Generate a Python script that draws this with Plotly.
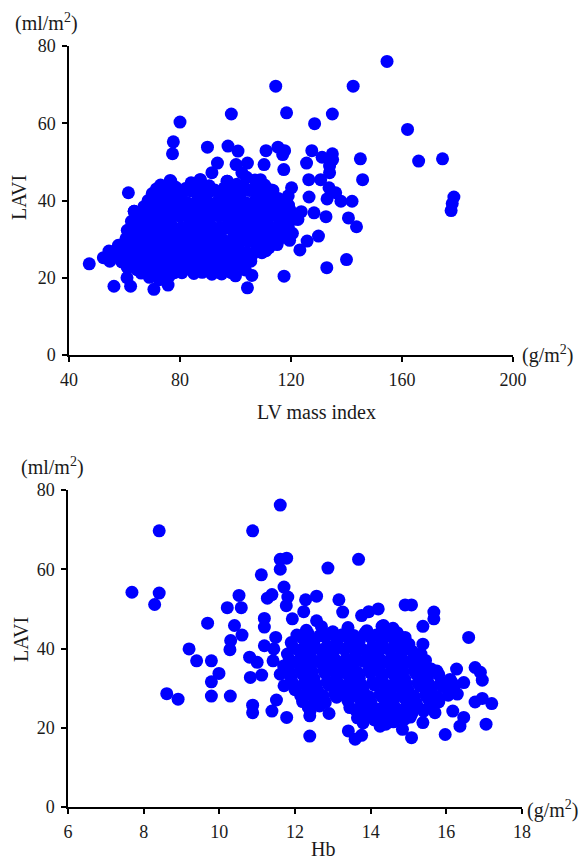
import plotly.graph_objects as go

# ---- top panel: LV mass index (g/m2) vs LAVI (ml/m2) ----
# sparse points around the main cloud
lvmi_edge = [154.6, 114.5, 142.4, 118.4, 98.5, 134.9, 80.0, 128.5, 162.0, 77.6,
             77.3, 89.9, 97.3, 100.9, 111.0, 115.3, 117.7, 117.0, 127.5, 134.9,
             131.2, 145.0, 166.0, 174.6, 125.6, 93.5, 100.2, 104.3, 110.3, 135.0,
             133.9, 117.4, 91.5, 102.3, 133.9, 145.8, 126.4, 130.7, 109.0, 97.0,
             76.8, 87.3, 133.7, 120.2, 101.6, 112.8, 61.4, 136.1, 126.5, 133.0,
             138.0, 142.0, 178.7, 178.1, 177.7, 119.1, 128.3, 132.6, 140.7, 143.6,
             123.7, 122.5, 129.9, 125.8, 123.2, 140.0, 132.9, 117.5, 105.9, 104.3,
             91.5, 80.7, 75.7, 70.6, 56.2, 62.2, 60.9, 47.3, 52.4, 54.7,
             54.4, 57.8, 60.9, 61.1, 63.5, 63.1, 112.1, 118.4, 115.5, 109.7,
             107.6, 113.0]
lavi_edge_top = [76.0, 69.6, 69.6, 62.7, 62.4, 62.4, 60.3, 59.9, 58.4, 55.2,
                 52.1, 53.8, 54.1, 52.8, 52.9, 53.8, 52.9, 51.9, 52.9, 52.1,
                 51.2, 50.8, 50.2, 50.8, 49.7, 49.7, 49.3, 49.7, 49.3, 50.6,
                 48.9, 48.0, 47.2, 47.2, 47.2, 45.4, 45.4, 45.4, 45.4, 45.0,
                 44.8, 45.4, 43.3, 43.3, 43.3, 42.4, 42.0, 42.0, 40.9, 40.4,
                 39.8, 39.8, 40.9, 39.2, 37.4, 38.8, 36.8, 35.8, 35.5, 33.2,
                 37.1, 35.1, 30.8, 29.5, 27.2, 24.7, 22.6, 20.4, 20.6, 17.4,
                 20.9, 21.3, 18.1, 17.0, 17.8, 17.8, 20.0, 23.6, 25.2, 24.3,
                 26.9, 28.4, 28.2, 22.6, 37.2, 32.5, 27.8, 32.5, 29.9, 32.1,
                 40.2, 42.7]

# dense cloud, read row by row
lvmi_core = [73.0, 76.5, 84.0, 87.3, 90.5, 97.0, 100.5, 104.0, 107.0, 110.5,
             71.5, 75.0, 78.5, 82.0, 85.5, 89.0, 92.5, 96.0, 99.5, 103.0, 106.5, 110.0, 113.5,
             70.0, 73.5, 77.0, 80.5, 84.0, 87.5, 91.0, 94.5, 98.0, 101.5, 105.0, 108.5, 112.0, 115.5, 119.0,
             68.5, 72.0, 75.5, 79.0, 82.5, 86.0, 89.5, 93.0, 96.5, 100.0, 103.5, 107.0, 110.5, 114.0, 117.5,
             63.5, 67.0, 70.5, 74.0, 77.5, 81.0, 84.5, 88.0, 91.5, 95.0, 98.5, 102.0, 105.5, 109.0, 112.5, 116.0, 119.5,
             65.0, 68.5, 72.0, 75.5, 79.0, 82.5, 86.0, 89.5, 93.0, 96.5, 100.0, 103.5, 107.0, 110.5, 114.0, 117.5, 120.5,
             62.5, 66.0, 69.5, 73.0, 76.5, 80.0, 83.5, 87.0, 90.5, 94.0, 97.5, 101.0, 104.5, 108.0, 111.5, 115.0, 118.5, 121.5,
             63.0, 66.5, 70.0, 73.5, 77.0, 80.5, 84.0, 87.5, 91.0, 94.5, 98.0, 101.5, 105.0, 108.5, 112.0, 115.5, 119.0,
             61.0, 64.5, 68.0, 71.5, 75.0, 78.5, 82.0, 85.5, 89.0, 92.5, 96.0, 99.5, 103.0, 106.5, 110.0, 113.5, 117.0, 120.5,
             60.5, 64.0, 67.5, 71.0, 74.5, 78.0, 81.5, 85.0, 88.5, 92.0, 95.5, 99.0, 102.5, 106.0, 109.5, 113.0, 116.5, 119.5,
             59.0, 62.5, 66.0, 69.5, 73.0, 76.5, 80.0, 83.5, 87.0, 90.5, 94.0, 97.5, 101.0, 104.5, 108.0, 111.5, 115.0,
             58.5, 62.0, 65.5, 69.0, 72.5, 76.0, 79.5, 83.0, 86.5, 90.0, 93.5, 97.0, 100.5, 104.0, 107.5, 111.0,
             57.0, 60.5, 64.0, 67.5, 71.0, 74.5, 78.0, 81.5, 85.0, 88.5, 92.0, 95.5, 99.0, 102.5, 106.0, 109.5,
             59.0, 62.5, 66.0, 69.5, 73.0, 76.5, 80.0, 84.5, 88.0, 91.5, 95.0, 98.5, 102.0, 105.5,
             61.0, 64.5, 68.0, 71.5, 75.0, 78.5, 83.0, 86.5, 89.5, 93.0, 96.5, 100.0, 103.5,
             66.0, 70.0, 74.0, 78.0, 85.0, 88.0, 95.0, 98.5,
             69.0, 72.5, 76.0, 100.0]
lavi_core_top = [44.0, 45.2, 44.6, 45.4, 43.8, 45.0, 44.2, 46.0, 45.3, 44.0,
                 43.0, 42.8, 43.4, 43.1, 42.9, 43.5, 42.7, 43.3, 42.9, 43.6, 42.8, 43.2, 42.6,
                 41.8, 40.8, 42.3, 41.2, 42.5, 41.0, 42.4, 40.9, 42.0, 41.3, 42.6, 40.7, 41.9, 40.5, 41.2,
                 40.0, 39.4, 39.9, 40.2, 39.5, 39.8, 40.1, 39.4, 39.7, 40.0, 39.5, 39.9, 39.3, 39.8, 39.6,
                 37.2, 38.4, 37.5, 38.8, 37.8, 39.0, 37.4, 38.6, 37.6, 39.1, 37.9, 38.7, 37.3, 38.5, 37.6, 38.9, 37.7,
                 36.5, 36.9, 36.3, 36.8, 36.4, 36.7, 36.2, 36.9, 36.5, 36.6, 36.3, 36.8, 36.4, 36.9, 36.5, 36.2, 36.7,
                 34.6, 35.6, 34.3, 35.8, 34.8, 35.9, 34.4, 35.5, 34.7, 36.0, 34.6, 35.7, 34.3, 35.6, 34.8, 35.9, 34.5, 35.2,
                 33.4, 33.1, 33.6, 33.2, 33.5, 33.0, 33.7, 33.3, 33.6, 33.1, 33.4, 33.8, 33.2, 33.5, 33.0, 33.6, 33.3,
                 32.3, 31.2, 32.4, 31.0, 32.6, 31.3, 32.5, 31.1, 32.2, 31.4, 32.7, 31.2, 32.4, 31.0, 32.3, 31.4, 32.6, 31.5,
                 30.1, 29.8, 30.4, 30.0, 30.3, 29.7, 30.2, 30.5, 29.9, 30.3, 29.8, 30.1, 30.4, 29.9, 30.2, 30.0, 30.4, 29.7,
                 28.2, 29.0, 28.0, 29.3, 28.3, 29.1, 28.0, 29.4, 28.4, 29.0, 28.1, 29.2, 28.3, 29.4, 28.0, 29.1, 28.6,
                 27.1, 26.8, 27.4, 26.9, 27.3, 26.7, 27.2, 27.5, 26.8, 27.1, 27.4, 26.9, 27.2, 26.6, 27.3, 27.0,
                 25.8, 25.2, 26.0, 25.0, 26.2, 25.3, 26.1, 25.0, 26.3, 25.4, 26.0, 25.1, 26.2, 25.3, 25.9, 26.5,
                 24.1, 23.8, 24.4, 23.7, 24.3, 23.9, 24.2, 24.5, 23.8, 24.1, 24.4, 23.6, 24.0, 24.3,
                 22.8, 22.1, 23.0, 22.3, 23.1, 22.4, 22.8, 23.4, 22.4, 23.0, 22.3, 23.2, 22.0,
                 21.2, 21.0, 21.5, 21.3, 21.1, 21.4, 21.0, 21.3,
                 20.1, 19.5, 20.3, 20.5]

# ---- bottom panel: Hb vs LAVI (ml/m2) ----
hb_edge = [11.61, 8.41, 10.88, 11.78, 11.61, 13.68, 12.87, 11.61, 11.11, 7.69,
           8.41, 8.29, 11.71, 11.81, 11.39, 11.27, 10.52, 10.21, 10.58, 11.77,
           12.28, 12.57, 13.16, 13.26, 14.91, 15.08, 14.20, 13.95, 13.76, 15.67,
           15.67, 12.23, 12.57, 11.93, 9.69, 10.40, 10.60, 11.19, 11.19, 11.49,
           15.38, 14.59, 14.34, 14.91, 15.01, 15.38, 15.33, 16.59, 10.30, 10.28,
           11.19, 11.44, 11.42, 9.20, 9.40, 9.79, 10.80, 11.00, 9.99, 9.79,
           10.82, 11.12, 9.79, 10.29, 8.61, 8.91, 10.88, 10.88, 11.51, 11.39,
           11.78, 12.39, 12.39, 11.71, 11.61, 13.41, 13.59, 13.76, 15.08, 15.97,
           16.36, 17.05, 17.20, 16.95, 16.76, 16.95, 16.90, 16.76, 16.46, 16.27,
           16.29, 16.17, 16.46, 15.38, 14.84, 14.25, 14.40]
lavi_edge_bottom = [76.2, 69.7, 69.7, 62.8, 62.5, 62.5, 60.3, 60.0, 58.6, 54.2,
                    54.0, 51.1, 55.5, 53.0, 53.6, 52.7, 53.4, 50.3, 50.3, 50.8,
                    52.3, 53.2, 52.3, 49.2, 51.0, 51.0, 50.0, 49.3, 48.3, 49.2,
                    47.5, 49.3, 47.0, 47.5, 46.4, 45.8, 43.4, 47.6, 45.4, 42.8,
                    45.6, 45.1, 45.8, 42.8, 41.1, 41.1, 38.6, 42.8, 42.0, 39.7,
                    40.7, 39.9, 36.9, 39.9, 36.9, 36.9, 37.8, 36.5, 33.7, 31.6,
                    32.7, 33.3, 28.0, 28.0, 28.6, 27.2, 25.7, 23.8, 27.0, 24.2,
                    22.6, 23.0, 17.9, 30.6, 33.5, 19.2, 17.1, 18.1, 17.5, 18.3,
                    20.4, 20.9, 26.1, 27.4, 26.5, 32.0, 34.0, 35.2, 31.4, 34.8,
                    28.5, 24.2, 22.6, 21.3, 19.6, 20.4, 20.9]

hb_core = [12.3, 12.7, 13.0, 13.4, 13.9, 14.3, 14.7,
           12.05, 12.35, 12.65, 12.95, 13.25, 13.55, 13.85, 14.15, 14.45, 14.75,
           11.9, 12.2, 12.5, 12.8, 13.1, 13.4, 13.7, 14.0, 14.3, 14.6, 14.9,
           11.95, 12.25, 12.55, 12.85, 13.15, 13.45, 13.75, 14.05, 14.35, 14.65, 14.95,
           11.8, 12.1, 12.4, 12.7, 13.0, 13.3, 13.6, 13.9, 14.2, 14.5, 14.8, 15.1,
           11.85, 12.15, 12.45, 12.75, 13.05, 13.35, 13.65, 13.95, 14.25, 14.55, 14.85, 15.15, 15.45,
           11.7, 12.0, 12.3, 12.6, 12.9, 13.2, 13.5, 13.8, 14.1, 14.4, 14.7, 15.0, 15.3, 15.6,
           11.85, 12.15, 12.45, 12.75, 13.05, 13.35, 13.65, 13.95, 14.25, 14.55, 14.85, 15.15, 15.45, 15.75,
           11.9, 12.2, 12.5, 12.8, 13.1, 13.4, 13.7, 14.0, 14.3, 14.6, 14.9, 15.2, 15.5, 15.8, 16.1,
           11.95, 12.25, 12.55, 12.85, 13.15, 13.45, 13.75, 14.05, 14.35, 14.65, 14.95, 15.25, 15.55, 15.85, 16.15,
           12.0, 12.3, 12.6, 12.9, 13.2, 13.5, 13.8, 14.1, 14.4, 14.7, 15.0, 15.3, 15.6, 15.9, 16.2,
           12.15, 12.45, 12.75, 13.05, 13.35, 13.65, 13.95, 14.25, 14.55, 14.85, 15.15, 15.45, 15.75, 16.05,
           12.2, 12.5, 12.8, 13.1, 13.4, 13.7, 14.0, 14.3, 14.6, 14.9, 15.2, 15.5, 15.8,
           12.35, 12.65, 13.45, 13.75, 14.05, 14.35, 14.65, 14.95, 15.25, 15.55,
           12.4, 12.9, 13.6, 13.9, 14.2, 14.5, 14.8, 15.1, 15.4, 15.7,
           13.65, 13.95, 14.25, 14.45, 14.75, 15.05,
           13.8, 14.1, 14.6, 14.9]
lavi_core_bottom = [44.6, 45.5, 44.2, 45.3, 44.5, 45.6, 44.0,
                    43.4, 43.7, 43.2, 43.8, 43.5, 43.3, 43.9, 43.4, 43.6, 43.2,
                    41.5, 42.6, 41.8, 42.9, 41.6, 42.7, 41.9, 42.8, 41.4, 42.5, 41.7,
                    40.2, 40.5, 40.1, 40.6, 40.3, 40.4, 40.0, 40.5, 40.2, 40.6, 40.1,
                    38.6, 39.5, 38.4, 39.6, 38.7, 39.8, 38.5, 39.4, 38.8, 39.7, 38.4, 39.3,
                    37.2, 37.5, 37.1, 37.6, 37.3, 37.4, 37.0, 37.5, 37.2, 37.6, 37.1, 37.4, 37.0,
                    35.6, 36.5, 35.4, 36.7, 35.8, 36.4, 35.5, 36.8, 35.7, 36.6, 35.3, 36.5, 35.6, 34.8,
                    34.2, 34.5, 34.1, 34.6, 34.3, 34.4, 34.0, 34.5, 34.2, 34.6, 34.1, 34.4, 34.0, 34.3,
                    32.6, 33.5, 32.4, 33.7, 32.8, 33.4, 32.5, 33.8, 32.7, 33.5, 32.3, 33.6, 32.5, 33.4, 32.2,
                    31.1, 31.4, 31.0, 31.5, 31.2, 31.3, 30.9, 31.4, 31.1, 31.5, 31.0, 31.3, 30.9, 31.2, 31.4,
                    29.6, 30.5, 29.4, 30.7, 29.8, 30.4, 29.5, 30.8, 29.7, 30.5, 29.3, 30.6, 29.5, 30.4, 29.8,
                    28.1, 28.4, 28.0, 28.5, 28.2, 28.3, 27.9, 28.4, 28.1, 28.5, 28.0, 28.3, 27.9, 28.2,
                    26.6, 27.5, 26.4, 27.7, 26.8, 27.4, 26.5, 27.8, 26.7, 27.5, 26.3, 27.6, 26.5,
                    25.2, 25.5, 25.1, 25.6, 25.3, 25.4, 25.0, 25.5, 25.2, 25.4,
                    24.3, 23.6, 24.5, 23.4, 24.6, 23.5, 24.4, 23.7, 24.2, 23.8,
                    22.5, 22.8, 22.4, 22.9, 22.6, 22.7,
                    21.2, 22.0, 21.5, 22.2]

top_ticks = [40, 80, 120, 160, 200]
bottom_ticks = [6, 8, 10, 12, 14, 16, 18]
lavi_ticks = [0, 20, 40, 60, 80]

# the page body keeps its default 8px margin, so the figure is 16px smaller
PAGE_W, PAGE_H, BODY = 587, 868, 8
W, H = PAGE_W - 2 * BODY, PAGE_H - 2 * BODY
SERIF = "Liberation Serif, Times New Roman, serif"
BLUE = "#0000ff"
INK = "#1a1a1a"

fig = go.Figure()

marker = dict(color=BLUE, size=13, line=dict(width=0))
fig.add_trace(go.Scatter(x=lvmi_core + lvmi_edge, y=lavi_core_top + lavi_edge_top,
                         mode="markers", marker=marker, xaxis="x", yaxis="y"))
fig.add_trace(go.Scatter(x=hb_core + hb_edge, y=lavi_core_bottom + lavi_edge_bottom,
                         mode="markers", marker=marker, xaxis="x2", yaxis="y2"))


def px_x(p):
    # page pixel -> paper fraction
    return (p - BODY) / W


def px_y(p):
    return 1 - (p - BODY) / H


axis_style = dict(showline=True, linecolor="black", linewidth=1.5, ticks="outside",
                  ticklen=5, tickwidth=1.5, tickcolor="black", showgrid=False,
                  zeroline=False, automargin=False, ticklabelstandoff=3,
                  tickfont=dict(family=SERIF, size=18, color=INK))

fig.update_layout(
    width=W, height=H,
    margin=dict(l=0, r=0, t=0, b=0, pad=0),
    paper_bgcolor="white", plot_bgcolor="white",
    showlegend=False,
    xaxis=dict(domain=[px_x(69), px_x(513)], range=[40, 200], tickvals=top_ticks,
               anchor="y", **axis_style),
    yaxis=dict(domain=[px_y(355), px_y(46)], range=[0, 80], tickvals=lavi_ticks,
               anchor="x", **axis_style),
    xaxis2=dict(domain=[px_x(68), px_x(522)], range=[6, 18], tickvals=bottom_ticks,
                anchor="y2", **axis_style),
    yaxis2=dict(domain=[px_y(807), px_y(490)], range=[0, 80], tickvals=lavi_ticks,
                anchor="x2", **axis_style),
)

labels = [
    ("(ml/m<sup>2</sup>)", 46, 23, 0),
    ("LAVI", 19, 198, -90),
    ("(g/m<sup>2</sup>)", 547, 354, 0),
    ("LV mass index", 316, 412, 0),
    ("(ml/m<sup>2</sup>)", 52, 466, 0),
    ("LAVI", 21, 640, -90),
    ("(g/m<sup>2</sup>)", 552, 809, 0),
    ("Hb", 323, 849, 0),
]
for text, x, y, angle in labels:
    fig.add_annotation(text=text, x=px_x(x), y=px_y(y), xref="paper", yref="paper",
                       showarrow=False, textangle=angle, xanchor="center", yanchor="middle",
                       font=dict(family=SERIF, size=20, color=INK))

fig.write_html("out.html")
